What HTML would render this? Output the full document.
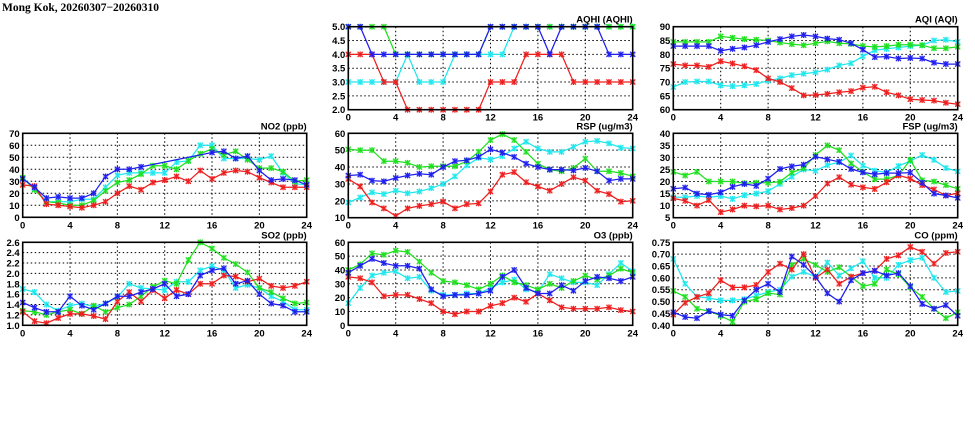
<!DOCTYPE html>
<html><head><meta charset="utf-8"><style>
html,body{margin:0;padding:0;background:#fff;width:975px;height:447px;overflow:hidden}
svg{display:block}
text{font-family:"Liberation Sans",sans-serif;font-weight:bold;fill:#000}
</style></head><body>
<svg id="s" width="975" height="447" xmlns="http://www.w3.org/2000/svg">
<text x="2" y="11" style="font-size:11.5px;font-family:'Liberation Serif',serif">Mong Kok, 20260307−20260310</text>
</svg>
<script>
const C={g:"#1ee01e",c:"#1ee8ee",r:"#ee1e1e",b:"#1e1eee"};
const P=[
{t:"AQHI (AQHI)",x0:348.3,x1:632.7,y0:26.7,y1:109.7,min:2,max:5,ticks:[2,2.5,3,3.5,4,4.5,5],fmt:1,d:{
c:[3,3,3,3,3,4,3,3,3,4,4,4,4,4,5,5,5,5,5,5,5,5,5,5,5],
g:[5,5,5,5,4,4,4,4,4,4,4,4,5,5,5,5,5,5,5,5,5,5,5,5,5],
r:[4,4,4,3,3,2,2,2,2,2,2,2,3,3,3,4,4,4,4,3,3,3,3,3,3],
b:[5,5,4,4,4,4,4,4,4,4,4,4,5,5,5,5,5,4,5,5,5,5,4,4,4]}},
{t:"AQI (AQI)",x0:673.3,x1:957.7,y0:26.7,y1:109.7,min:60,max:90,ticks:[60,65,70,75,80,85,90],fmt:0,d:{
c:[68.2,70,70.2,70.2,68.8,68.5,68.8,69.3,70.5,71.3,72.5,73,73.5,74.5,76,76.8,79.3,81.5,82,82.5,83,83.3,85,85.3,84.5],
g:[84.5,84.5,84.5,84.5,86.5,86,85.5,85.3,85,84.3,83.7,83.3,84,84.7,84,83.8,83,82.7,83,83.5,83.5,83.3,82.2,82.2,82.7],
r:[76.5,76,76,75.5,77.5,76.7,75.7,74.3,71.3,70,67.8,65.2,65.3,65.7,66.3,66.7,68,68.3,66.3,65.2,63.8,63.5,63.3,62.5,62],
b:[83,83,83,83,81.3,82,82.5,83.3,84.5,85.5,86.5,87,86.5,85.7,85.3,84,81.7,79,79.2,78.5,78.7,78.5,77,76.5,76.5]}},
{t:"NO2 (ppb)",x0:22.7,x1:306.7,y0:133.3,y1:217.3,min:0,max:70,ticks:[0,10,20,30,40,50,60,70],fmt:0,d:{
c:[33,24,13,13,13,15,15,25,35,37,37,37,37,46,47,60,60,49,49,49,48,51,37,28,27],
g:[33,23,13,12,10,10,14,22,29,31,36,43,43,40,47,53,57,52,55,48,41,41,38,30,31],
r:[27,26,11,10,9,8,10,13,20,26,23,29,31,34,30,39,32,37,39,38,33,29,25,25,25],
b:[32,25,16,17,16,16,20,34,40,40,42,null,null,null,null,null,54,55,49,51,39,31,32,31,27]}},
{t:"RSP (ug/m3)",x0:348.3,x1:632.7,y0:133.3,y1:217.7,min:10,max:60,ticks:[10,20,30,40,50,60],fmt:0,d:{
c:[19,22,25,24,26,24.5,25.5,27.5,30,34.5,41,45.5,44.5,46.5,51,55,51,49,49,52,55,55.5,54,51.5,51],
g:[50.5,50,50,43.5,43.5,42.5,40,40.5,40.5,40.5,43.5,49,56,59.5,56,49,42,38.5,37.5,39.5,45,37.5,37.5,36.5,34.5],
r:[33,28.5,19,15.5,11,15.5,17,18,19.5,15.5,18,18.5,25.5,35.5,37,31,28.5,26,30,34,32,26,24,19.5,20],
b:[35,35.5,32,31.5,33.5,35,36,35.5,40,43.5,44,46,50.5,48.5,46,42,40,38.5,38.5,38,39.5,37.5,32,33,33]}},
{t:"FSP (ug/m3)",x0:673.3,x1:957.7,y0:133.3,y1:217.7,min:5,max:40,ticks:[5,10,15,20,25,30,35,40],fmt:0,d:{
c:[13.5,13.5,14,13.5,14,12.8,14.3,15,16,19,22,25,24.4,26.8,28,30.8,26.6,24.5,23.8,26.4,28.5,31,29,25.6,24.2],
g:[24,22.5,24,20,20,20,19.3,19.5,19.5,19.9,23.7,25.5,31,35,33,27.5,24,21,21,22.5,29,20.5,20,18.5,17],
r:[13,12,10,12.3,7.3,8.4,10,9.7,10,8.4,9,10,14,19.2,21.8,18.7,17.6,16.9,19.7,22.6,21.2,18.5,16.7,14.2,15.1],
b:[17,17.5,15,14.5,15.5,17.8,19,18.2,21.2,25.2,26.3,27,30.3,29.2,28.2,25.2,23.8,23,23.5,23.5,23.7,19.5,15,14.2,13.2]}},
{t:"SO2 (ppb)",x0:22.7,x1:306.7,y0:242.3,y1:325.3,min:1,max:2.6,ticks:[1,1.2,1.4,1.6,1.8,2,2.2,2.4,2.6],fmt:1,d:{
c:[1.7,1.64,1.4,1.28,1.38,1.42,1.36,1.42,1.54,1.8,1.72,1.7,1.68,1.84,1.84,2.06,2.14,2.06,1.72,1.78,1.72,1.56,1.46,1.3,1.3],
g:[1.28,1.26,1.2,1.26,1.3,1.22,1.38,1.26,1.34,1.4,1.56,1.74,1.86,1.8,2.26,2.6,2.48,2.3,2.18,2.02,1.72,1.64,1.52,1.42,1.44],
r:[1.26,1.08,1.04,1.14,1.22,1.22,1.18,1.12,1.46,1.64,1.46,1.68,1.52,1.68,1.6,1.8,1.8,1.96,1.94,1.84,1.9,1.76,1.72,1.76,1.84],
b:[1.44,1.34,1.26,1.26,1.56,1.38,1.3,1.42,1.56,1.56,1.64,1.7,1.8,1.56,1.6,1.96,2.06,2.1,1.8,1.86,1.6,1.42,1.38,1.26,1.26]}},
{t:"O3 (ppb)",x0:348.3,x1:632.7,y0:242.3,y1:325.3,min:0,max:60,ticks:[0,10,20,30,40,50,60],fmt:0,d:{
c:[16,27,36,38,39,34,35,25,22,22,23,23,27,31,33,26,24,37,34,31,31,29,37,45,39],
g:[40,44,52,51,54,53,46,38,32,31,29,26,30,36,31,29,26,30,27,32,36,33,36,41,38],
r:[35,34,31,21,22,22,19,16,10,8,10,10,14,16,20,17,23,18,13,12,12,12,13,11,10],
b:[38,43,48,45,43,43,41,26,21,22,22,23,25,35,40,27,23,23,29,25,32,35,34,32,35]}},
{t:"CO (ppm)",x0:673.3,x1:957.7,y0:242.3,y1:325.3,min:0.4,max:0.75,ticks:[0.4,0.45,0.5,0.55,0.6,0.65,0.7,0.75],fmt:2,d:{
c:[0.68,0.575,0.52,0.515,0.505,0.505,0.51,0.525,0.54,0.55,0.605,0.625,0.605,0.665,0.61,0.64,0.67,0.6,0.6,0.655,0.675,0.685,0.6,0.54,0.545],
g:[0.545,0.52,0.47,0.46,0.44,0.415,0.5,0.51,0.535,0.53,0.655,0.68,0.655,0.625,0.645,0.605,0.565,0.575,0.635,0.615,0.56,0.52,0.47,0.43,0.455],
r:[0.445,0.495,0.52,0.535,0.59,0.56,0.56,0.57,0.625,0.66,0.635,0.7,0.6,0.635,0.575,0.605,0.62,0.63,0.68,0.695,0.73,0.71,0.66,0.705,0.71],
b:[0.455,0.435,0.43,0.46,0.445,0.44,0.505,0.55,0.575,0.54,0.69,0.655,0.605,0.535,0.5,0.59,0.62,0.63,0.61,0.62,0.565,0.49,0.47,0.485,0.44]}}
];
let h="";
for(const p of P){
 const X=i=>p.x0+(p.x1-p.x0)*i/24, Y=v=>p.y1-(p.y1-p.y0)*(v-p.min)/(p.max-p.min);
 for(const t of p.ticks){const y=Y(t);
  if(t!=p.min&&t!=p.max)h+=`<line x1="${p.x0}" x2="${p.x1}" y1="${y}" y2="${y}" stroke="#000" stroke-width="1" stroke-dasharray="1.5,2.5"/>`;
  h+=`<text x="${p.x0-3}" y="${y+3.5}" text-anchor="end" style="font-size:9.5px">${t.toFixed(p.fmt)}</text>`;}
 for(let i=0;i<=24;i+=4){const x=X(i);
  if(i>0&&i<24)h+=`<line x1="${x}" x2="${x}" y1="${p.y0}" y2="${p.y1}" stroke="#000" stroke-width="1" stroke-dasharray="1.5,2.5"/>`;
  h+=`<text x="${x}" y="${p.y1+11}" text-anchor="middle" style="font-size:9.5px">${i}</text>`;}
 h+=`<text x="${p.x1}" y="${p.y0-4}" text-anchor="end" style="font-size:9.5px">${p.t}</text>`;
 for(const k of ["c","g","r","b"]){const a=p.d[k],col=C[k];let pts=[];
  a.forEach((v,i)=>{if(v!=null)pts.push([X(i),Y(v)])});
  h+=`<polyline fill="none" stroke="${col}" stroke-width="1.25" points="${pts.map(q=>q[0].toFixed(1)+","+q[1].toFixed(1)).join(" ")}"/>`;
  for(const [x,y] of pts){
   h+=`<rect x="${x-2.6}" y="${y-2.6}" width="5.2" height="5.2" fill="${col}" opacity="0.35"/>`;
   h+=`<path d="M${x-2.6} ${y-2.6}L${x+2.6} ${y+2.6}M${x-2.6} ${y+2.6}L${x+2.6} ${y-2.6}M${x} ${y-3}V${y+3}" stroke="${col}" stroke-width="1.1"/>`;}
 }
 h+=`<rect x="${p.x0}" y="${p.y0}" width="${p.x1-p.x0}" height="${p.y1-p.y0}" fill="none" stroke="#000" stroke-width="1.6"/>`;
}
document.getElementById("s").insertAdjacentHTML("beforeend",h);
</script>
</body></html>
